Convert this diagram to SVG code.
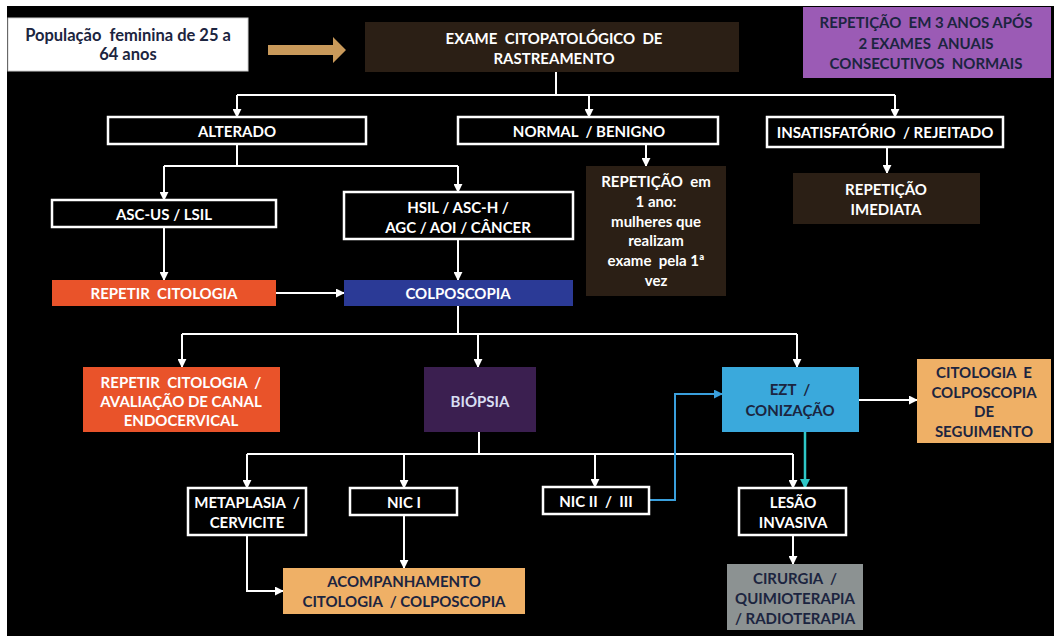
<svg xmlns="http://www.w3.org/2000/svg" width="1054" height="636" viewBox="0 0 1054 636">
<defs>
<marker id="aw" viewBox="0 0 10 10" refX="9" refY="5" markerWidth="4.5" markerHeight="4.5" orient="auto" markerUnits="strokeWidth"><path d="M0,0 L10,5 L0,10 z" fill="#ffffff"/></marker>
<marker id="ab" viewBox="0 0 10 10" refX="9" refY="5" markerWidth="4.5" markerHeight="4.5" orient="auto" markerUnits="strokeWidth"><path d="M0,0 L10,5 L0,10 z" fill="#3a9fdc"/></marker>
<marker id="at" viewBox="0 0 10 10" refX="9" refY="5" markerWidth="4" markerHeight="4" orient="auto" markerUnits="strokeWidth"><path d="M0,0 L10,5 L0,10 z" fill="#2ec8c8"/></marker>
</defs>
<style>
text{font-family:Lato,"Liberation Sans",sans-serif;font-weight:bold;font-size:15px;text-anchor:middle;dominant-baseline:central;white-space:pre}
.w{fill:#ffffff}
.d{fill:#1c2540}
.ob{fill:#000000;stroke:#ffffff;stroke-width:2.5}
.c{fill:none;stroke:#ffffff;stroke-width:2;marker-end:url(#aw)}
.l{fill:none;stroke:#ffffff;stroke-width:2}
.brown{fill:#2b1f15}
.tan{fill:#efb066}
.orange{fill:#e9532a}
</style>
<rect x="0" y="0" width="1054" height="636" fill="#ffffff"/>
<rect x="7" y="6" width="1047" height="630" fill="#000000"/>

<g id="connectors">
<path class="l" d="M556,72 V95 M237,95 H895"/>
<path class="c" d="M237,95 V117"/>
<path class="c" d="M589,95 V117"/>
<path class="c" d="M895,95 V117"/>
<path class="l" d="M237,144 V166 M164,166 H458"/>
<path class="c" d="M164,166 V200"/>
<path class="c" d="M458,166 V192"/>
<path class="c" d="M646,144 V166"/>
<path class="c" d="M887,147 V173"/>
<path class="c" d="M164,227 V280"/>
<path class="c" d="M458,239 V280"/>
<path class="c" d="M276,293 H344"/>
<path class="l" d="M458,306 V334 M182,334 H797"/>
<path class="c" d="M182,334 V367"/>
<path class="c" d="M478,334 V367"/>
<path class="c" d="M797,334 V367"/>
<path class="c" d="M859,400 H917"/>
<path class="l" d="M479,432 V454 M247,454 H793"/>
<path class="c" d="M247,454 V488"/>
<path class="c" d="M404,454 V488"/>
<path class="c" d="M595,454 V487"/>
<path class="c" d="M793,454 V488"/>
<path d="M649,500 H675 V394 H722" fill="none" stroke="#3a9fdc" stroke-width="2" marker-end="url(#ab)"/>
<path d="M805,432 V488" fill="none" stroke="#2ec8c8" stroke-width="2.5" marker-end="url(#at)"/>
<path class="c" d="M404,515 V568"/>
<path class="c" d="M247,535 V591 H283"/>
<path class="c" d="M793,535 V564"/>
<path d="M268,45 H333 V37 L346,50 L333,63 V55 H268 Z" fill="#c8995a"/>
</g>

<g id="populacao">
<rect x="8" y="18" width="240" height="53" fill="#ffffff" stroke="#cfcfcf" stroke-width="1"/>
<text class="d" x="128" y="35" style="font-size:16.5px">População  feminina de 25 a</text>
<text class="d" x="128" y="54" style="font-size:16.5px">64 anos</text>
</g>
<g id="exame">
<rect class="brown" x="365" y="22" width="374" height="50"/>
<text class="w" x="554" y="38">EXAME  CITOPATOLÓGICO  DE</text>
<text class="w" x="554" y="58">RASTREAMENTO</text>
</g>
<g id="repeticao3anos">
<rect x="803" y="7" width="248" height="71" fill="#9b5bb5"/>
<text class="d" x="926" y="22">REPETIÇÃO  EM 3 ANOS APÓS</text>
<text class="d" x="926" y="43">2 EXAMES  ANUAIS</text>
<text class="d" x="926" y="63">CONSECUTIVOS  NORMAIS</text>
</g>
<g id="alterado">
<rect class="ob" x="108" y="117" width="258" height="27"/>
<text class="w" x="237" y="131">ALTERADO</text>
</g>
<g id="normal">
<rect class="ob" x="458" y="117" width="260" height="27"/>
<text class="w" x="589" y="131">NORMAL  / BENIGNO</text>
</g>
<g id="insatisfatorio">
<rect class="ob" x="767" y="117" width="236" height="30"/>
<text class="w" x="885" y="132">INSATISFATÓRIO  / REJEITADO</text>
</g>
<g id="ascus">
<rect class="ob" x="52" y="200" width="224" height="27"/>
<text class="w" x="164" y="214">ASC-US / LSIL</text>
</g>
<g id="hsil">
<rect class="ob" x="344" y="192" width="229" height="47"/>
<text class="w" x="458" y="207">HSIL / ASC-H /</text>
<text class="w" x="458" y="227">AGC / AOI / CÂNCER</text>
</g>
<g id="repeticao1ano">
<rect class="brown" x="586" y="166" width="140" height="130"/>
<text class="w" x="656" y="181">REPETIÇÃO  em</text>
<text class="w" x="656" y="201">1 ano:</text>
<text class="w" x="656" y="221">mulheres que</text>
<text class="w" x="656" y="240">realizam</text>
<text class="w" x="656" y="260">exame  pela 1ª</text>
<text class="w" x="656" y="280">vez</text>
</g>
<g id="imediata">
<rect class="brown" x="793" y="173" width="187" height="51"/>
<text class="w" x="886" y="189">REPETIÇÃO</text>
<text class="w" x="886" y="209">IMEDIATA</text>
</g>
<g id="repetircitologia">
<rect class="orange" x="52" y="280" width="224" height="26"/>
<text class="w" x="164" y="293">REPETIR  CITOLOGIA</text>
</g>
<g id="colposcopia">
<rect x="344" y="280" width="229" height="26" fill="#2b3a96"/>
<text class="w" x="458" y="293">COLPOSCOPIA</text>
</g>
<g id="repetircanal">
<rect class="orange" x="83" y="367" width="197" height="65"/>
<text class="w" x="181" y="382">REPETIR  CITOLOGIA  /</text>
<text class="w" x="181" y="401">AVALIAÇÃO DE CANAL</text>
<text class="w" x="181" y="420">ENDOCERVICAL</text>
</g>
<g id="biopsia">
<rect x="424" y="367" width="112" height="65" fill="#3b1f50"/>
<text x="480" y="401" fill="#d8def2">BIÓPSIA</text>
</g>
<g id="ezt">
<rect x="722" y="367" width="137" height="65" fill="#3aa9dc"/>
<text class="d" x="790" y="389">EZT  /</text>
<text class="d" x="790" y="410">CONIZAÇÃO</text>
</g>
<g id="seguimento">
<rect class="tan" x="917" y="359" width="134" height="84"/>
<text class="d" x="984" y="372">CITOLOGIA  E</text>
<text class="d" x="984" y="392">COLPOSCOPIA</text>
<text class="d" x="984" y="411">DE</text>
<text class="d" x="984" y="431">SEGUIMENTO</text>
</g>
<g id="metaplasia">
<rect class="ob" x="188" y="488" width="118" height="47"/>
<text class="w" x="247" y="502">METAPLASIA  /</text>
<text class="w" x="247" y="522">CERVICITE</text>
</g>
<g id="nic1">
<rect class="ob" x="350" y="488" width="107" height="27"/>
<text class="w" x="404" y="502">NIC I</text>
</g>
<g id="nic23">
<rect class="ob" x="543" y="487" width="106" height="27"/>
<text class="w" x="596" y="501">NIC II  /  III</text>
</g>
<g id="lesao">
<rect class="ob" x="739" y="488" width="107" height="47"/>
<text class="w" x="793" y="502">LESÃO</text>
<text class="w" x="793" y="522">INVASIVA</text>
</g>
<g id="acompanhamento">
<rect class="tan" x="283" y="568" width="242" height="46"/>
<text class="d" x="404" y="581">ACOMPANHAMENTO</text>
<text class="d" x="404" y="601">CITOLOGIA  / COLPOSCOPIA</text>
</g>
<g id="cirurgia">
<rect x="727" y="564" width="136" height="66" fill="#8c9292"/>
<text class="d" x="795" y="578">CIRURGIA  /</text>
<text class="d" x="795" y="598">QUIMIOTERAPIA</text>
<text class="d" x="795" y="618">/ RADIOTERAPIA</text>
</g>
</svg>
